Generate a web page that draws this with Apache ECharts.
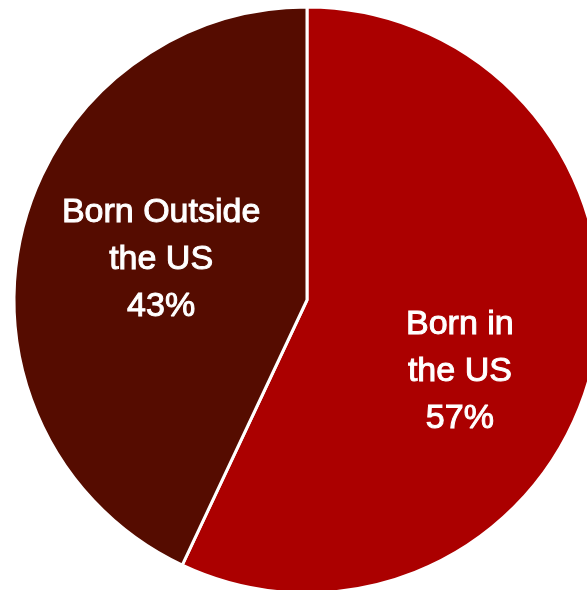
<!DOCTYPE html>
<html>
<head>
<meta charset="utf-8">
<script src="https://cdn.jsdelivr.net/npm/echarts@6/dist/echarts.min.js"></script>
<style>
  html, body { margin: 0; padding: 0; background: #ffffff; }
  #chart { width: 587px; height: 590px; }
</style>
</head>
<body>
<div id="chart"></div>
<script>
// Share of population by place of birth (percent)
const categories = ['Born in\nthe US', 'Born Outside\nthe US'];
const shares = [57, 43];
const sliceColors = ['#AB0000', '#550C00'];
const labelOffsets = [[7, 39], [0, -8]];

const chart = echarts.init(document.getElementById('chart'));

chart.setOption({
  animation: false,
  series: [{
    type: 'pie',
    center: [307, 300],
    radius: 293,
    startAngle: 90,
    clockwise: true,
    avoidLabelOverlap: false,
    itemStyle: { borderColor: '#ffffff', borderWidth: 3 },
    label: {
      show: true,
      position: 'inside',
      formatter: p => p.name + '\n' + p.value + '%',
      color: '#ffffff',
      fontFamily: '"Liberation Sans", Arial, sans-serif',
      fontSize: 34,
      lineHeight: 47,
      textBorderColor: '#ffffff',
      textBorderWidth: 1,
      align: 'center'
    },
    labelLine: { show: false },
    emphasis: { disabled: true },
    data: categories.map((name, i) => ({
      name,
      value: shares[i],
      itemStyle: { color: sliceColors[i] },
      label: { offset: labelOffsets[i] }
    }))
  }]
});
</script>
</body>
</html>
